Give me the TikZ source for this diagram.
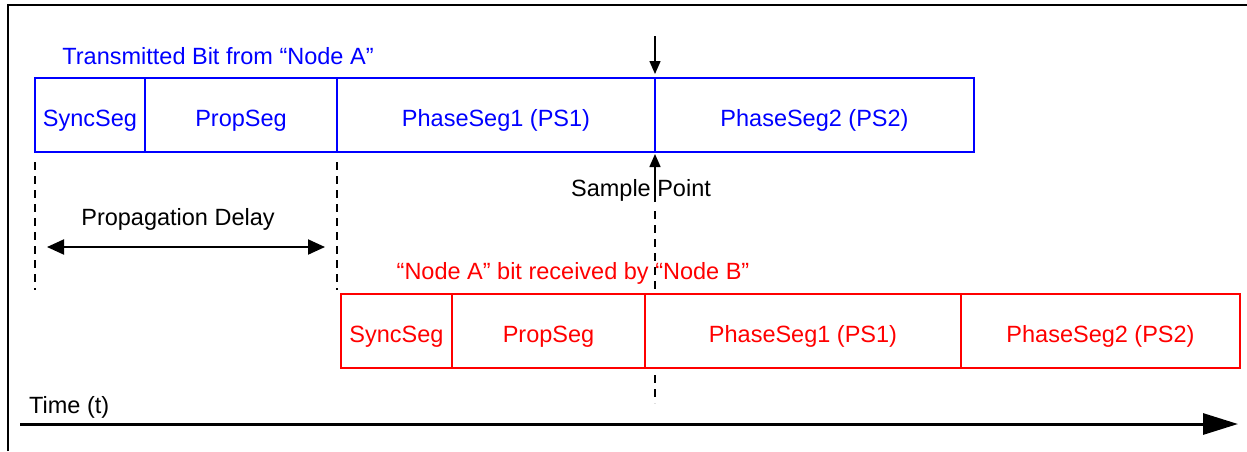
\documentclass[tikz,border=0pt]{standalone}
\usepackage{fontspec}
\setmainfont{Liberation Sans}
\usetikzlibrary{calc, positioning, arrows.meta}
\tikzset{
	seg/.style={draw, rectangle, minimum height=74pt, inner sep=0pt, outer sep=0pt, line width=2pt, node distance=0pt, text height=23.4pt, text depth=0pt},
	segA/.style={seg, color=blue, text=blue},
	segB/.style={seg, color=red, text=red},
	guide/.style={dashed, dash pattern=on 8pt off 6pt, line width=1.5pt},
}

\begin{document}
\begin{tikzpicture}[x=1pt, y=-1pt, font=\fontsize{23.5}{28}\selectfont]
		
		\useasboundingbox (0,0) rectangle (1247,451);
		
		% Frame
		\draw[line width=2.5pt] (8,451) -- (8,5) -- (1247,5);
		
		% Transmitted bit
		\node[blue] (titleA) at (218,56) {Transmitted Bit from “Node A”};
		\node[segA, minimum width=110pt, anchor=west] (syncA) at (35,115) {SyncSeg};
		\node[segA, minimum width=192pt, right=of syncA] (propA) {PropSeg};
		\node[segA, minimum width=318pt, right=of propA] (psoneA) {PhaseSeg1 (PS1)};
		\node[segA, minimum width=319pt, right=of psoneA] (pstwoA) {PhaseSeg2 (PS2)};
		
		% Received bit
		\node[red] (titleB) at (573,273) {“Node A” bit received by “Node B”};
		\node[segB, minimum width=111pt, anchor=west] (syncB) at (341,331) {SyncSeg};
		\node[segB, minimum width=193pt, right=of syncB] (propB) {PropSeg};
		\node[segB, minimum width=316pt, right=of propB] (psoneB) {PhaseSeg1 (PS1)};
		\node[segB, minimum width=279pt, right=of psoneB] (pstwoB) {PhaseSeg2 (PS2)};
		
		% Sample point
		\coordinate (spin) at (655,36);
		\coordinate (spout) at (655,202);
		\node (sample) at (641,190.5) {Sample Point};
		\draw[line width=1.5pt, -{Triangle[length=13pt, width=11pt]}, shorten >=4pt] (spin) -- (psoneA.north east);
		\draw[line width=1.5pt, -{Triangle[length=13pt, width=11pt]}, shorten >=2pt] (spout) -- (psoneA.south east);
		\draw[guide] (655,211) -- (655,290);
		\draw[guide] (655,375) -- (655,403);
		
		% Propagation delay
		\draw[guide] (syncA.south west) ++(0,10) -- (35,290);
		\draw[guide] (propA.south east) ++(0,10) -- (337,290);
		\coordinate (delayL) at (47,247);
		\coordinate (delayR) at (325,247);
		\draw[line width=2pt, {Triangle[length=17pt, width=15pt]}-{Triangle[length=17pt, width=15pt]}] (delayL) -- (delayR);
		\node (delay) at (178,219) {Propagation Delay};
		
		% Time axis
		\coordinate (t0) at (20,424);
		\coordinate (t1) at (1238,424);
		\draw[line width=3pt, -{Triangle[length=35pt, width=21pt]}] (t0) -- (t1);
		\node[anchor=west, inner sep=0pt] (time) at (29,407) {Time (t)};
		
	\end{tikzpicture}
\end{document}
